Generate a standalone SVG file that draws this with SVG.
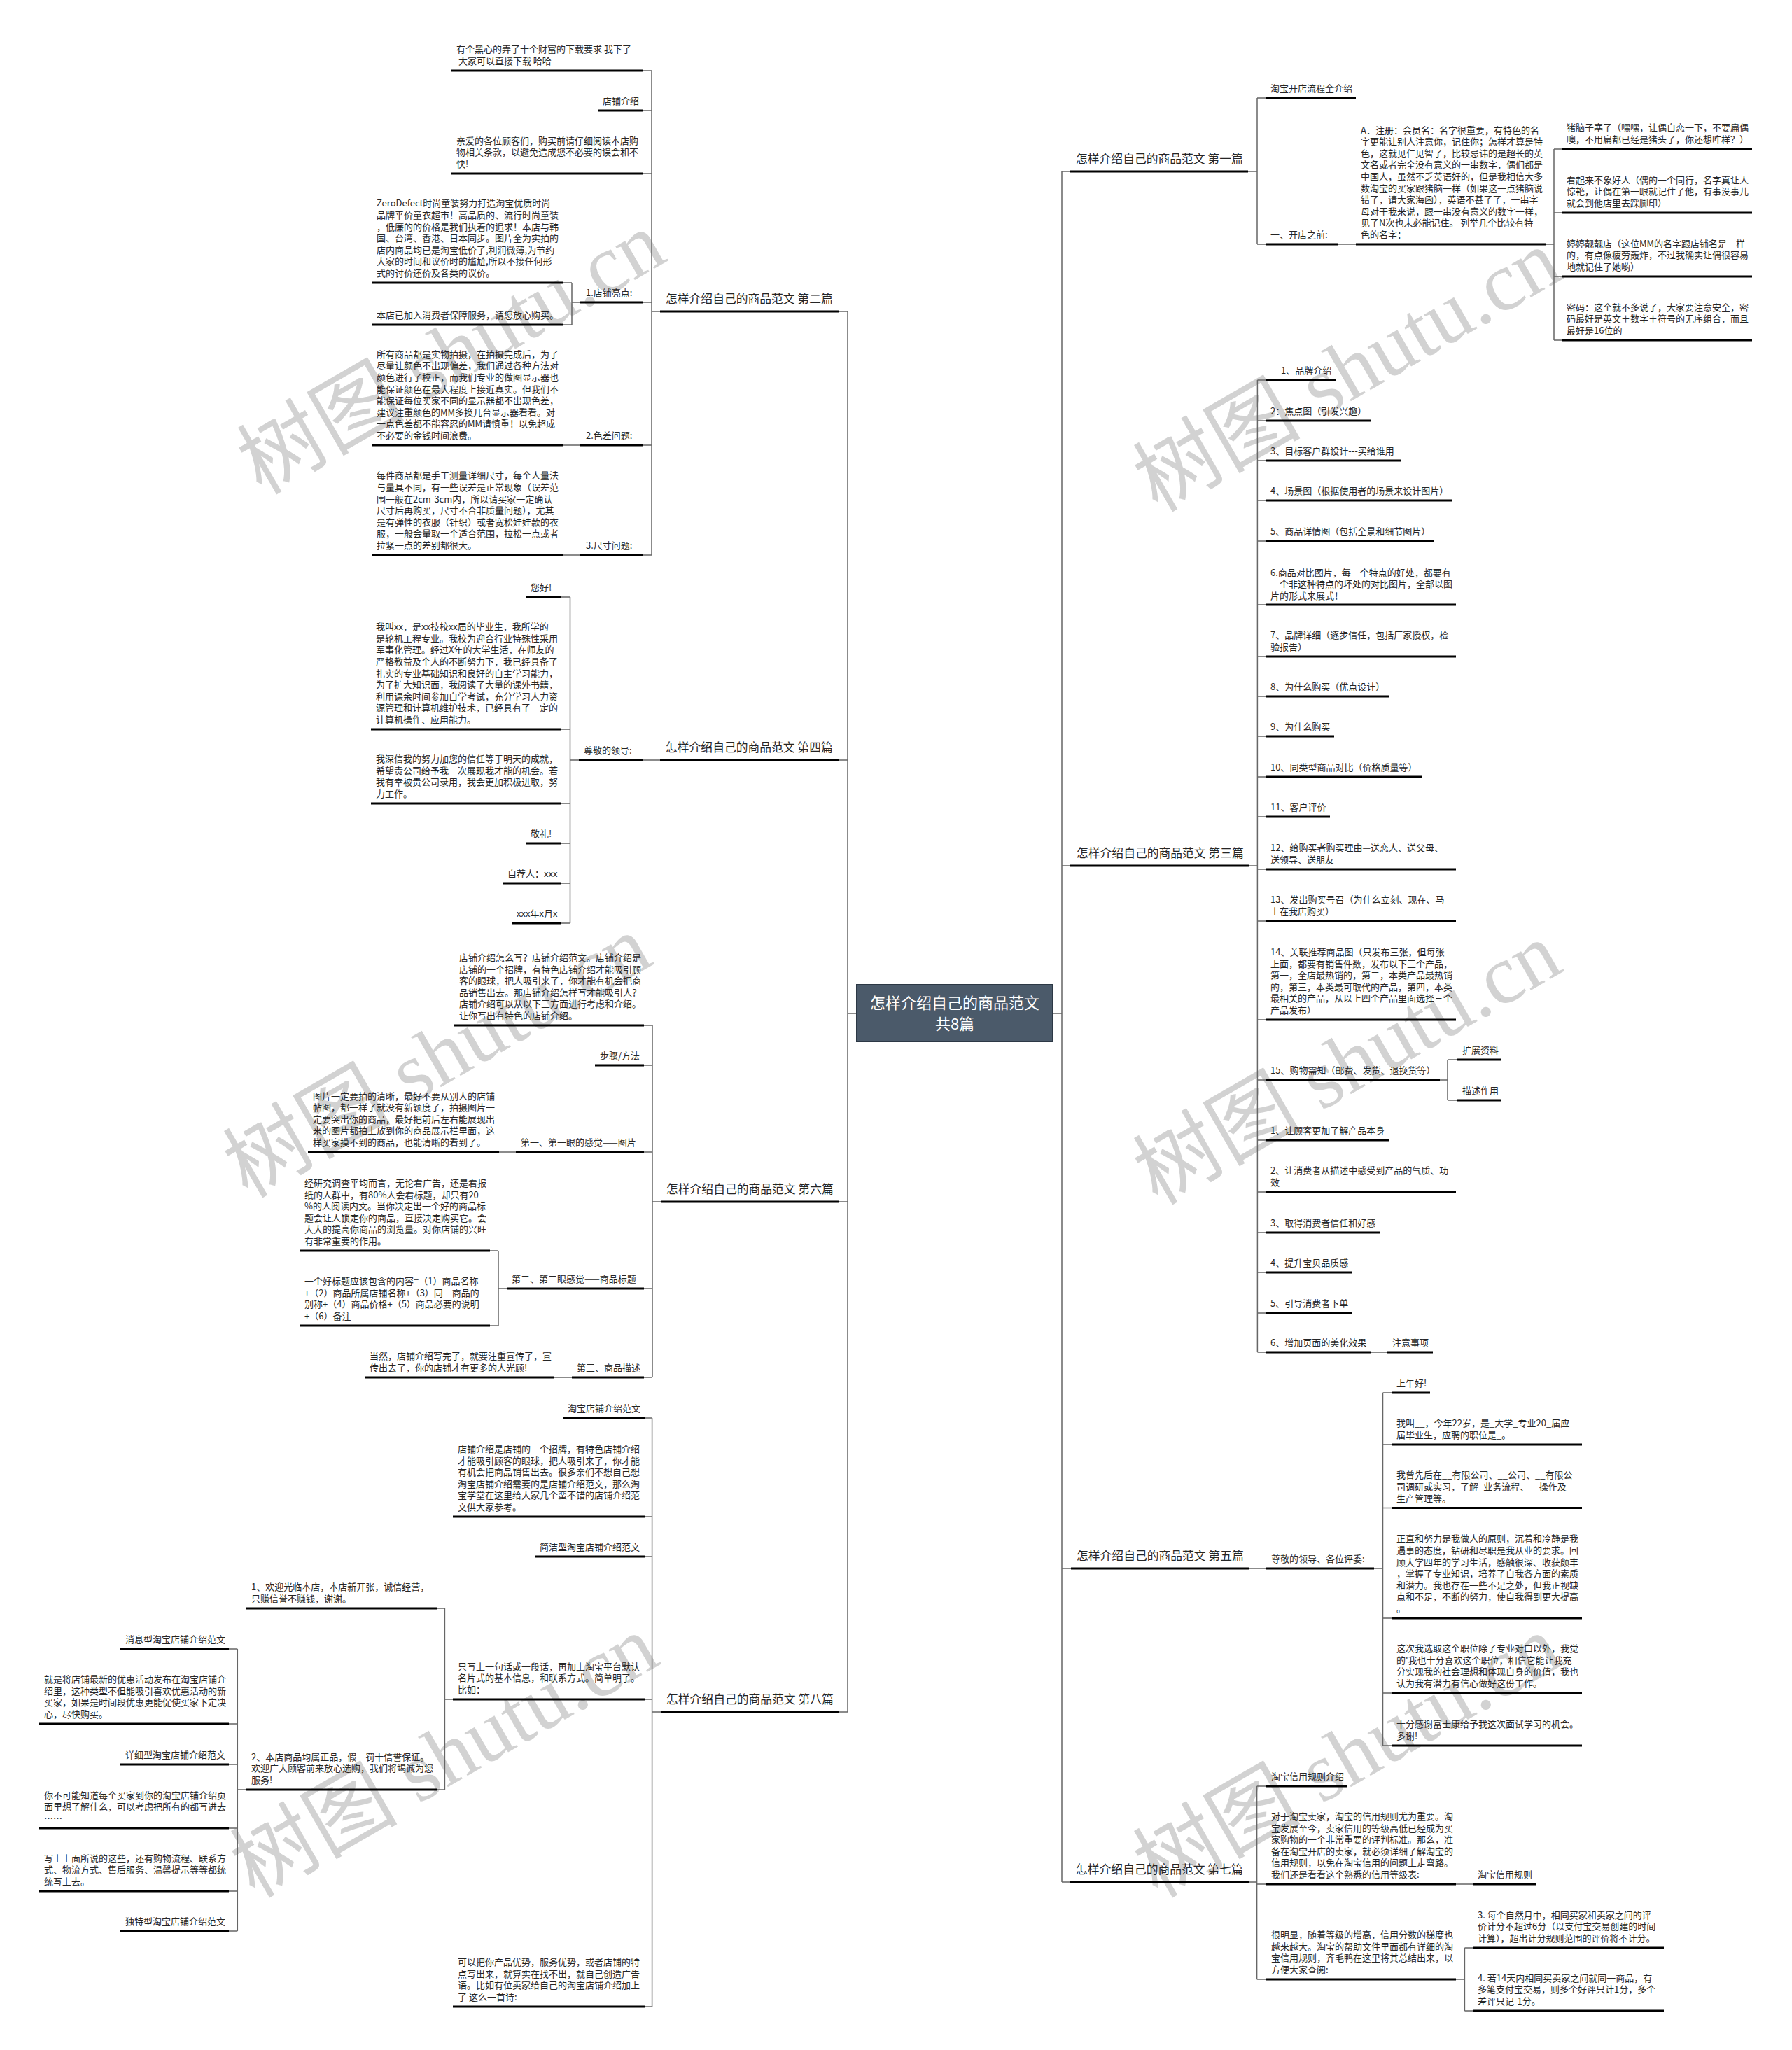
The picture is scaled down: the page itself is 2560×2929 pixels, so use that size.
<svg xmlns="http://www.w3.org/2000/svg" width="2560" height="2929" viewBox="0 0 2560 2929">
<style>
.t{font-family:"Noto Sans CJK SC","Liberation Sans",sans-serif;font-size:13px;fill:#262626}
.h{font-family:"Noto Sans CJK SC","Liberation Sans",sans-serif;font-size:16.8px;fill:#262626}
.c{font-family:"Noto Sans CJK SC","Liberation Sans",sans-serif;font-size:22px;fill:#ffffff;text-anchor:middle}
.u{stroke:#000;stroke-width:3;fill:none}
.l{stroke:#666;stroke-width:1.5;fill:none}
.w{font-family:"Liberation Serif","Noto Sans CJK SC",serif;font-size:120px;fill:#d2d2d2;text-anchor:middle}
</style>
<rect width="2560" height="2929" fill="#ffffff"/>
<g id="watermarks">
<text class="w" x="645" y="545" transform="rotate(-30 645 505)">树图 shutu.cn</text>
<text class="w" x="625" y="1550" transform="rotate(-30 625 1510)">树图 shutu.cn</text>
<text class="w" x="635" y="2550" transform="rotate(-30 635 2510)">树图 shutu.cn</text>
<text class="w" x="1925" y="570" transform="rotate(-30 1925 530)">树图 shutu.cn</text>
<text class="w" x="1925" y="1560" transform="rotate(-30 1925 1520)">树图 shutu.cn</text>
<text class="w" x="1925" y="2550" transform="rotate(-30 1925 2510)">树图 shutu.cn</text>
</g>
<g id="connectors">
<path class="l" d="M1224 1448H1211M1211 445V2446M1211 445H1198M1211 1086H1198M1211 1717H1199M1211 2446H1198"/>
<path class="l" d="M931 101V793M943 445H931M931 101H918M931 158H918M931 248H918M931 432H918M931 636H918M931 793H918M829 432H817M817 404V464M817 404H805M817 464H805M805 636H829M805 793H829"/>
<path class="l" d="M918 1086H943M814.5 853V1319M827 1086H814.5M814.5 853H802M814.5 1042H802M814.5 1148H802M814.5 1205H802M814.5 1262H802M814.5 1319H802"/>
<path class="l" d="M932 1465V1968M944 1717H932M932 1465H920M932 1522H920M932 1646H920M932 1841H920M932 1968H920M713 1646H737M724 1841H712M712 1787V1894M712 1787H700M712 1894H700M792 1968H817"/>
<path class="l" d="M931.6 2026V2867M944 2446H931.6M931.6 2026H921M931.6 2167H921M931.6 2224H921M931.6 2428H921M931.6 2867H921M647 2428H635.4M635.4 2298V2557M635.4 2298H624M635.4 2557H624M352 2557H339.3M339.3 2356V2759M339.3 2356H327M339.3 2463H327M339.3 2521H327M339.3 2612H327M339.3 2702H327M339.3 2759H327"/>
<path class="l" d="M1504 1448H1517M1517 245V2689M1517 245H1528M1517 1237H1529M1517 2241H1530M1517 2689H1529"/>
<path class="l" d="M1783 245H1796M1796 140V349M1796 140H1808M1796 349H1808M1911 349H1937M2208 349H2220M2220 213V486M2220 213H2231M2220 304H2231M2220 395H2231M2220 486H2231"/>
<path class="l" d="M1784 1237H1796.4M1796.4 543V1932M1796.4 543H1808M1796.4 601H1808M1796.4 658H1808M1796.4 715H1808M1796.4 773H1808M1796.4 864H1808M1796.4 938H1808M1796.4 995H1808M1796.4 1052H1808M1796.4 1110H1808M1796.4 1167H1808M1796.4 1242H1808M1796.4 1316H1808M1796.4 1457H1808M1796.4 1543H1808M1796.4 1629H1808M1796.4 1703H1808M1796.4 1761H1808M1796.4 1818H1808M1796.4 1876H1808M1796.4 1932H1808M2057 1543H2068M2068 1514V1572M2068 1514H2082M2068 1572H2082M1958 1932H1982"/>
<path class="l" d="M1784 2241H1809M1963 2241H1975.5M1975.5 1990V2494M1975.5 1990H1988M1975.5 2064H1988M1975.5 2154.5H1988M1975.5 2312H1988M1975.5 2419H1988M1975.5 2494H1988"/>
<path class="l" d="M1784 2689H1795.6M1795.6 2552V2828M1795.6 2552H1809M1795.6 2692H1809M1795.6 2828H1809M2080 2692H2104.5M2080 2828H2092.4M2092.4 2783V2873M2092.4 2783H2104.5M2092.4 2873H2104.5"/>
</g>
<g id="center">
<rect x="1224" y="1407" width="280" height="81" fill="#4b5a6a" stroke="#2c3845" stroke-width="2"/>
<text class="c" x="1364" y="1441">怎样介绍自己的商品范文</text>
<text class="c" x="1364" y="1471">共8篇</text>
</g>
<!-- 第二篇 -->
<g id="t2"><text class="h" x="951" y="433">怎样介绍自己的商品范文 第二篇</text><line class="u" x1="943" y1="445" x2="1198" y2="445"/></g>
<g id="n2-1"><text class="t"><tspan x="652" y="75.4">有个黑心的弄了十个财富的下载要求 我下了</tspan><tspan x="652" y="92"> 大家可以直接下载 哈哈</tspan></text><line class="u" x1="645" y1="101" x2="918" y2="101"/></g>
<g id="n2-2"><text class="t" x="861" y="149">店铺介绍</text><line class="u" x1="854" y1="158" x2="918" y2="158"/></g>
<g id="n2-3"><text class="t"><tspan x="652" y="205.8">亲爱的各位顾客们，购买前请仔细阅读本店购</tspan><tspan x="652" y="222.4">物相关条款，以避免造成您不必要的误会和不</tspan><tspan x="652" y="239">快!</tspan></text><line class="u" x1="645" y1="248" x2="918" y2="248"/></g>
<g id="n2-4"><text class="t" x="837" y="423">1.店铺亮点:</text><line class="u" x1="829" y1="432" x2="918" y2="432"/></g>
<g id="n2-4a"><text class="t"><tspan x="538" y="295.4">ZeroDefect时尚童装努力打造淘宝优质时尚</tspan><tspan x="538" y="312">品牌平价童衣超市！高品质的、流行时尚童装</tspan><tspan x="538" y="328.6">，低廉的的价格是我们执着的追求！本店与韩</tspan><tspan x="538" y="345.2">国、台湾、香港、日本同步。图片全为实拍的</tspan><tspan x="538" y="361.8">店内商品均已是淘宝低价了,利润微薄,为节约</tspan><tspan x="538" y="378.4">大家的时间和议价时的尴尬,所以不接任何形</tspan><tspan x="538" y="395">式的讨价还价及各类的议价。</tspan></text><line class="u" x1="531" y1="404" x2="805" y2="404"/></g>
<g id="n2-4b"><text class="t" x="538" y="455">本店已加入消费者保障服务，请您放心购买。</text><line class="u" x1="531" y1="464" x2="805" y2="464"/></g>
<g id="n2-5"><text class="t" x="837" y="627">2.色差问题:</text><line class="u" x1="829" y1="636" x2="918" y2="636"/></g>
<g id="n2-5a"><text class="t"><tspan x="538" y="510.8">所有商品都是实物拍摄，在拍摄完成后，为了</tspan><tspan x="538" y="527.4">尽量让颜色不出现偏差，我们通过各种方法对</tspan><tspan x="538" y="544">颜色进行了校正，而我们专业的做图显示器也</tspan><tspan x="538" y="560.6">能保证颜色在最大程度上接近真实。但我们不</tspan><tspan x="538" y="577.2">能保证每位买家不同的显示器都不出现色差，</tspan><tspan x="538" y="593.8">建议注重颜色的MM多换几台显示器看看。对</tspan><tspan x="538" y="610.4">一点色差都不能容忍的MM请慎重！以免超成</tspan><tspan x="538" y="627">不必要的金钱时间浪费。</tspan></text><line class="u" x1="531" y1="636" x2="805" y2="636"/></g>
<g id="n2-6"><text class="t" x="837" y="784">3.尺寸问题:</text><line class="u" x1="829" y1="793" x2="918" y2="793"/></g>
<g id="n2-6a"><text class="t"><tspan x="538" y="684.4">每件商品都是手工测量详细尺寸，每个人量法</tspan><tspan x="538" y="701">与量具不同，有一些误差是正常现象（误差范</tspan><tspan x="538" y="717.6">围一般在2cm-3cm内，所以请买家一定确认</tspan><tspan x="538" y="734.2">尺寸后再购买，尺寸不合非质量问题），尤其</tspan><tspan x="538" y="750.8">是有弹性的衣服（针织）或者宽松娃娃款的衣</tspan><tspan x="538" y="767.4">服，一般会量取一个适合范围，拉松一点或者</tspan><tspan x="538" y="784">拉紧一点的差别都很大。</tspan></text><line class="u" x1="531" y1="793" x2="805" y2="793"/></g>
<!-- 第四篇 -->
<g id="t4"><text class="h" x="951" y="1074">怎样介绍自己的商品范文 第四篇</text><line class="u" x1="943" y1="1086" x2="1198" y2="1086"/></g>
<g id="n4-1"><text class="t" x="834" y="1077">尊敬的领导:</text><line class="u" x1="827" y1="1086" x2="918" y2="1086"/></g>
<g id="n4-2"><text class="t" x="758" y="844">您好!</text><line class="u" x1="751" y1="853" x2="802" y2="853"/></g>
<g id="n4-3"><text class="t"><tspan x="537" y="900.2">我叫xx，是xx技校xx届的毕业生，我所学的</tspan><tspan x="537" y="916.8">是轮机工程专业。我校为迎合行业特殊性采用</tspan><tspan x="537" y="933.4">军事化管理。经过X年的大学生活，在师友的</tspan><tspan x="537" y="950">严格教益及个人的不断努力下，我已经具备了</tspan><tspan x="537" y="966.6">扎实的专业基础知识和良好的自主学习能力，</tspan><tspan x="537" y="983.2">为了扩大知识面，我阅读了大量的课外书籍，</tspan><tspan x="537" y="999.8">利用课余时间参加自学考试，充分学习人力资</tspan><tspan x="537" y="1016.4">源管理和计算机维护技术，已经具有了一定的</tspan><tspan x="537" y="1033">计算机操作、应用能力。</tspan></text><line class="u" x1="530" y1="1042" x2="802" y2="1042"/></g>
<g id="n4-4"><text class="t"><tspan x="537" y="1089.2">我深信我的努力加您的信任等于明天的成就，</tspan><tspan x="537" y="1105.8">希望贵公司给予我一次展现我才能的机会。若</tspan><tspan x="537" y="1122.4">我有幸被贵公司录用，我会更加积极进取，努</tspan><tspan x="537" y="1139">力工作。</tspan></text><line class="u" x1="530" y1="1148" x2="802" y2="1148"/></g>
<g id="n4-5"><text class="t" x="758" y="1196">敬礼!</text><line class="u" x1="751" y1="1205" x2="802" y2="1205"/></g>
<g id="n4-6"><text class="t" x="725" y="1253">自荐人：xxx</text><line class="u" x1="718" y1="1262" x2="802" y2="1262"/></g>
<g id="n4-7"><text class="t" x="738" y="1310">xxx年x月x</text><line class="u" x1="731" y1="1319" x2="802" y2="1319"/></g>
<!-- 第六篇 -->
<g id="t6"><text class="h" x="952" y="1705">怎样介绍自己的商品范文 第六篇</text><line class="u" x1="944" y1="1717" x2="1199" y2="1717"/></g>
<g id="n6-1"><text class="t"><tspan x="656" y="1373">店铺介绍怎么写？店铺介绍范文。店铺介绍是</tspan><tspan x="656" y="1389.6">店铺的一个招牌，有特色店铺介绍才能吸引顾</tspan><tspan x="656" y="1406.2">客的眼球，把人吸引来了，你才能有机会把商</tspan><tspan x="656" y="1422.8">品销售出去。那店铺介绍怎样写才能吸引人？</tspan><tspan x="656" y="1439.4">店铺介绍可以从以下三方面进行考虑和介绍。</tspan><tspan x="656" y="1456">让你写出有特色的店铺介绍。</tspan></text><line class="u" x1="649" y1="1465" x2="920" y2="1465"/></g>
<g id="n6-2"><text class="t" x="857" y="1513">步骤/方法</text><line class="u" x1="850" y1="1522" x2="920" y2="1522"/></g>
<g id="n6-3"><text class="t" x="744" y="1637">第一、第一眼的感觉——图片</text><line class="u" x1="737" y1="1646" x2="920" y2="1646"/></g>
<g id="n6-3a"><text class="t"><tspan x="447" y="1570.6">图片一定要拍的清晰，最好不要从别人的店铺</tspan><tspan x="447" y="1587.2">帖图，都一样了就没有新颖度了，拍摄图片一</tspan><tspan x="447" y="1603.8">定要突出你的商品，最好把前后左右能展现出</tspan><tspan x="447" y="1620.4">来的图片都拍上放到你的商品展示栏里面，这</tspan><tspan x="447" y="1637">样买家摸不到的商品，也能清晰的看到了。</tspan></text><line class="u" x1="440" y1="1646" x2="713" y2="1646"/></g>
<g id="n6-4"><text class="t" x="731" y="1832">第二、第二眼感觉——商品标题</text><line class="u" x1="724" y1="1841" x2="920" y2="1841"/></g>
<g id="n6-4a"><text class="t"><tspan x="435" y="1695">经研究调查平均而言，无论看广告，还是看报</tspan><tspan x="435" y="1711.6">纸的人群中，有80%人会看标题，却只有20</tspan><tspan x="435" y="1728.2">%的人阅读内文。当你决定出一个好的商品标</tspan><tspan x="435" y="1744.8">题会让人锁定你的商品，直接决定购买它。会</tspan><tspan x="435" y="1761.4">大大的提高你商品的浏览量。对你店铺的兴旺</tspan><tspan x="435" y="1778">有非常重要的作用。</tspan></text><line class="u" x1="428" y1="1787" x2="700" y2="1787"/></g>
<g id="n6-4b"><text class="t"><tspan x="435" y="1835.2">一个好标题应该包含的内容=（1）商品名称</tspan><tspan x="435" y="1851.8">+（2）商品所属店铺名称+（3）同一商品的</tspan><tspan x="435" y="1868.4">别称+（4）商品价格+（5）商品必要的说明</tspan><tspan x="435" y="1885">+（6）备注</tspan></text><line class="u" x1="428" y1="1894" x2="700" y2="1894"/></g>
<g id="n6-5"><text class="t" x="824" y="1959">第三、商品描述</text><line class="u" x1="817" y1="1968" x2="920" y2="1968"/></g>
<g id="n6-5a"><text class="t"><tspan x="528" y="1942.4">当然，店铺介绍写完了，就要注重宣传了，宣</tspan><tspan x="528" y="1959">传出去了，你的店铺才有更多的人光顾!</tspan></text><line class="u" x1="521" y1="1968" x2="792" y2="1968"/></g>
<!-- 第八篇 -->
<g id="t8"><text class="h" x="952" y="2434">怎样介绍自己的商品范文 第八篇</text><line class="u" x1="944" y1="2446" x2="1198" y2="2446"/></g>
<g id="n8-1"><text class="t" x="811" y="2017">淘宝店铺介绍范文</text><line class="u" x1="804" y1="2026" x2="921" y2="2026"/></g>
<g id="n8-2"><text class="t"><tspan x="654" y="2075">店铺介绍是店铺的一个招牌，有特色店铺介绍</tspan><tspan x="654" y="2091.6">才能吸引顾客的眼球，把人吸引来了，你才能</tspan><tspan x="654" y="2108.2">有机会把商品销售出去。很多亲们不想自己想</tspan><tspan x="654" y="2124.8">淘宝店铺介绍需要的是店铺介绍范文，那么淘</tspan><tspan x="654" y="2141.4">宝学堂在这里给大家几个蛮不错的店铺介绍范</tspan><tspan x="654" y="2158">文供大家参考。</tspan></text><line class="u" x1="647" y1="2167" x2="921" y2="2167"/></g>
<g id="n8-3"><text class="t" x="771" y="2215">简洁型淘宝店铺介绍范文</text><line class="u" x1="764" y1="2224" x2="921" y2="2224"/></g>
<g id="n8-4"><text class="t"><tspan x="654" y="2385.8">只写上一句话或一段话，再加上淘宝平台默认</tspan><tspan x="654" y="2402.4">名片式的基本信息，和联系方式。简单明了。</tspan><tspan x="654" y="2419">比如：</tspan></text><line class="u" x1="647" y1="2428" x2="921" y2="2428"/></g>
<g id="n8-4a"><text class="t"><tspan x="359" y="2272.4">1、欢迎光临本店，本店新开张，诚信经营，</tspan><tspan x="359" y="2289">只赚信誉不赚钱，谢谢。</tspan></text><line class="u" x1="352" y1="2298" x2="624" y2="2298"/></g>
<g id="n8-4b"><text class="t"><tspan x="359" y="2514.8">2、本店商品均属正品，假一罚十信誉保证。</tspan><tspan x="359" y="2531.4">欢迎广大顾客前来放心选购，我们将竭诚为您</tspan><tspan x="359" y="2548">服务!</tspan></text><line class="u" x1="352" y1="2557" x2="624" y2="2557"/></g>
<g id="n8-5"><text class="t" x="179" y="2347">消息型淘宝店铺介绍范文</text><line class="u" x1="172" y1="2356" x2="327" y2="2356"/></g>
<g id="n8-6"><text class="t"><tspan x="63" y="2404.2">就是将店铺最新的优惠活动发布在淘宝店铺介</tspan><tspan x="63" y="2420.8">绍里，这种类型不但能吸引喜欢优惠活动的新</tspan><tspan x="63" y="2437.4">买家，如果是时间段优惠更能促使买家下定决</tspan><tspan x="63" y="2454">心，尽快购买。</tspan></text><line class="u" x1="56" y1="2463" x2="327" y2="2463"/></g>
<g id="n8-7"><text class="t" x="179" y="2512">详细型淘宝店铺介绍范文</text><line class="u" x1="172" y1="2521" x2="327" y2="2521"/></g>
<g id="n8-8"><text class="t"><tspan x="63" y="2569.8">你不可能知道每个买家到你的淘宝店铺介绍页</tspan><tspan x="63" y="2586.4">面里想了解什么，可以考虑把所有的都写进去</tspan><tspan x="63" y="2603">……</tspan></text><line class="u" x1="56" y1="2612" x2="327" y2="2612"/></g>
<g id="n8-9"><text class="t"><tspan x="63" y="2659.8">写上上面所说的这些，还有购物流程、联系方</tspan><tspan x="63" y="2676.4">式、物流方式、售后服务、温馨提示等等都统</tspan><tspan x="63" y="2693">统写上去。</tspan></text><line class="u" x1="56" y1="2702" x2="327" y2="2702"/></g>
<g id="n8-10"><text class="t" x="179" y="2750">独特型淘宝店铺介绍范文</text><line class="u" x1="172" y1="2759" x2="327" y2="2759"/></g>
<g id="n8-11"><text class="t"><tspan x="654" y="2808.2">可以把你产品优势，服务优势，或者店铺的特</tspan><tspan x="654" y="2824.8">点写出来，就算实在找不出，就自己创造广告</tspan><tspan x="654" y="2841.4">语。比如有位卖家给自己的淘宝店铺介绍加上</tspan><tspan x="654" y="2858">了 这么一首诗:</tspan></text><line class="u" x1="647" y1="2867" x2="921" y2="2867"/></g>
<!-- 第一篇 -->
<g id="t1"><text class="h" x="1537" y="233">怎样介绍自己的商品范文 第一篇</text><line class="u" x1="1528" y1="245" x2="1783" y2="245"/></g>
<g id="n1-1"><text class="t" x="1815" y="131">淘宝开店流程全介绍</text><line class="u" x1="1808" y1="140" x2="1937" y2="140"/></g>
<g id="n1-2"><text class="t" x="1815" y="340">一、开店之前:</text><line class="u" x1="1808" y1="349" x2="1911" y2="349"/></g>
<g id="n1-3"><text class="t"><tspan x="1944" y="190.6">A．注册：会员名：名字很重要，有特色的名</tspan><tspan x="1944" y="207.2">字更能让别人注意你，记住你；怎样才算是特</tspan><tspan x="1944" y="223.8">色，这就见仁见智了，比较忌讳的是超长的英</tspan><tspan x="1944" y="240.4">文名或者完全没有意义的一串数字，偶们都是</tspan><tspan x="1944" y="257">中国人，虽然不乏英语好的，但是我相信大多</tspan><tspan x="1944" y="273.6">数淘宝的买家跟猪脑一样（如果这一点猪脑说</tspan><tspan x="1944" y="290.2">错了，请大家海函），英语不甚了了，一串字</tspan><tspan x="1944" y="306.8">母对于我来说，跟一串没有意义的数字一样，</tspan><tspan x="1944" y="323.4">见了N次也未必能记住。 列举几个比较有特</tspan><tspan x="1944" y="340">色的名字：</tspan></text><line class="u" x1="1937" y1="349" x2="2208" y2="349"/></g>
<g id="n1-4"><text class="t"><tspan x="2238" y="187.4">猪脑子塞了（嘿嘿，让偶自恋一下，不要扁偶</tspan><tspan x="2238" y="204">噢，不用扁都已经是猪头了，你还想咋样？）</tspan></text><line class="u" x1="2231" y1="213" x2="2503" y2="213"/></g>
<g id="n1-5"><text class="t"><tspan x="2238" y="261.8">看起来不象好人（偶的一个同行，名字真让人</tspan><tspan x="2238" y="278.4">惊艳，让偶在第一眼就记住了他，有事没事儿</tspan><tspan x="2238" y="295">就会到他店里去踩脚印）</tspan></text><line class="u" x1="2231" y1="304" x2="2503" y2="304"/></g>
<g id="n1-6"><text class="t"><tspan x="2238" y="352.8">婷婷靓靓店（这位MM的名字跟店铺名是一样</tspan><tspan x="2238" y="369.4">的，有点像疲劳轰炸，不过我确实让偶很容易</tspan><tspan x="2238" y="386">地就记住了她哟）</tspan></text><line class="u" x1="2231" y1="395" x2="2503" y2="395"/></g>
<g id="n1-7"><text class="t"><tspan x="2238" y="443.8">密码：这个就不多说了，大家要注意安全，密</tspan><tspan x="2238" y="460.4">码最好是英文＋数字＋符号的无序组合，而且</tspan><tspan x="2238" y="477">最好是16位的</tspan></text><line class="u" x1="2231" y1="486" x2="2503" y2="486"/></g>
<!-- 第三篇 -->
<g id="t3"><text class="h" x="1538" y="1225">怎样介绍自己的商品范文 第三篇</text><line class="u" x1="1529" y1="1237" x2="1784" y2="1237"/></g>
<g id="n3-1"><text class="t" x="1830" y="534">1、品牌介绍</text><line class="u" x1="1808" y1="543" x2="1908" y2="543"/></g>
<g id="n3-2"><text class="t" x="1815" y="592">2：焦点图（引发兴趣）</text><line class="u" x1="1808" y1="601" x2="1958" y2="601"/></g>
<g id="n3-3"><text class="t" x="1815" y="649">3、目标客户群设计---买给谁用</text><line class="u" x1="1808" y1="658" x2="2001" y2="658"/></g>
<g id="n3-4"><text class="t" x="1815" y="706">4、场景图（根据使用者的场景来设计图片）</text><line class="u" x1="1808" y1="715" x2="2075" y2="715"/></g>
<g id="n3-5"><text class="t" x="1815" y="764">5、商品详情图（包括全景和细节图片）</text><line class="u" x1="1808" y1="773" x2="2048" y2="773"/></g>
<g id="n3-6"><text class="t"><tspan x="1815" y="822.8">6.商品对比图片，每一个特点的好处，都要有</tspan><tspan x="1815" y="839.4">一个非这种特点的坏处的对比图片，全部以图</tspan><tspan x="1815" y="856">片的形式来展式！</tspan></text><line class="u" x1="1808" y1="864" x2="2080" y2="864"/></g>
<g id="n3-7"><text class="t"><tspan x="1815" y="912.4">7、品牌详细（逐步信任，包括厂家授权，检</tspan><tspan x="1815" y="929">验报告）</tspan></text><line class="u" x1="1808" y1="938" x2="2080" y2="938"/></g>
<g id="n3-8"><text class="t" x="1815" y="986">8、为什么购买（优点设计）</text><line class="u" x1="1808" y1="995" x2="1984" y2="995"/></g>
<g id="n3-9"><text class="t" x="1815" y="1043">9、为什么购买</text><line class="u" x1="1808" y1="1052" x2="1906" y2="1052"/></g>
<g id="n3-10"><text class="t" x="1815" y="1101">10、同类型商品对比（价格质量等）</text><line class="u" x1="1808" y1="1110" x2="2031" y2="1110"/></g>
<g id="n3-11"><text class="t" x="1815" y="1158">11、客户评价</text><line class="u" x1="1808" y1="1167" x2="1900" y2="1167"/></g>
<g id="n3-12"><text class="t"><tspan x="1815" y="1216.4">12、给购买者购买理由—送恋人、送父母、</tspan><tspan x="1815" y="1233">送领导、送朋友</tspan></text><line class="u" x1="1808" y1="1242" x2="2080" y2="1242"/></g>
<g id="n3-13"><text class="t"><tspan x="1815" y="1290.4">13、发出购买号召（为什么立刻、现在、马</tspan><tspan x="1815" y="1307">上在我店购买）</tspan></text><line class="u" x1="1808" y1="1316" x2="2080" y2="1316"/></g>
<g id="n3-14"><text class="t"><tspan x="1815" y="1365">14、关联推荐商品图（只发布三张，但每张</tspan><tspan x="1815" y="1381.6">上面，都要有销售件数，发布以下三个产品，</tspan><tspan x="1815" y="1398.2">第一，全店最热销的，第二，本类产品最热销</tspan><tspan x="1815" y="1414.8">的，第三，本类最可取代的产品，第四，本类</tspan><tspan x="1815" y="1431.4">最相关的产品，从以上四个产品里面选择三个</tspan><tspan x="1815" y="1448">产品发布）</tspan></text><line class="u" x1="1808" y1="1457" x2="2080" y2="1457"/></g>
<g id="n3-15"><text class="t" x="1815" y="1534">15、购物需知（邮费、发货、退换货等）</text><line class="u" x1="1808" y1="1543" x2="2057" y2="1543"/></g>
<g id="n3-15a"><text class="t" x="2089" y="1505">扩展资料</text><line class="u" x1="2082" y1="1514" x2="2145" y2="1514"/></g>
<g id="n3-15b"><text class="t" x="2089" y="1563">描述作用</text><line class="u" x1="2082" y1="1572" x2="2145" y2="1572"/></g>
<g id="n3-16"><text class="t" x="1815" y="1620">1、让顾客更加了解产品本身</text><line class="u" x1="1808" y1="1629" x2="1984" y2="1629"/></g>
<g id="n3-17"><text class="t"><tspan x="1815" y="1677.4">2、让消费者从描述中感受到产品的气质、功</tspan><tspan x="1815" y="1694">效</tspan></text><line class="u" x1="1808" y1="1703" x2="2080" y2="1703"/></g>
<g id="n3-18"><text class="t" x="1815" y="1752">3、取得消费者信任和好感</text><line class="u" x1="1808" y1="1761" x2="1971" y2="1761"/></g>
<g id="n3-19"><text class="t" x="1815" y="1809">4、提升宝贝品质感</text><line class="u" x1="1808" y1="1818" x2="1932" y2="1818"/></g>
<g id="n3-20"><text class="t" x="1815" y="1867">5、引导消费者下单</text><line class="u" x1="1808" y1="1876" x2="1932" y2="1876"/></g>
<g id="n3-21"><text class="t" x="1815" y="1923">6、增加页面的美化效果</text><line class="u" x1="1808" y1="1932" x2="1958" y2="1932"/></g>
<g id="n3-21a"><text class="t" x="1989" y="1923">注意事项</text><line class="u" x1="1982" y1="1932" x2="2047" y2="1932"/></g>
<!-- 第五篇 -->
<g id="t5"><text class="h" x="1538" y="2229">怎样介绍自己的商品范文 第五篇</text><line class="u" x1="1530" y1="2241" x2="1784" y2="2241"/></g>
<g id="n5-1"><text class="t" x="1816" y="2232">尊敬的领导、各位评委:</text><line class="u" x1="1809" y1="2241" x2="1963" y2="2241"/></g>
<g id="n5-2"><text class="t" x="1995" y="1981">上午好!</text><line class="u" x1="1988" y1="1990" x2="2043" y2="1990"/></g>
<g id="n5-3"><text class="t"><tspan x="1995" y="2038.4">我叫__，今年22岁，是_大学_专业20_届应</tspan><tspan x="1995" y="2055">届毕业生，应聘的职位是_。</tspan></text><line class="u" x1="1988" y1="2064" x2="2260" y2="2064"/></g>
<g id="n5-4"><text class="t"><tspan x="1995" y="2112.3">我曾先后在__有限公司、__公司、__有限公</tspan><tspan x="1995" y="2128.9">司调研或实习，了解_业务流程、__操作及</tspan><tspan x="1995" y="2145.5">生产管理等。</tspan></text><line class="u" x1="1988" y1="2154.5" x2="2260" y2="2154.5"/></g>
<g id="n5-5"><text class="t"><tspan x="1995" y="2203.4">正直和努力是我做人的原则，沉着和冷静是我</tspan><tspan x="1995" y="2220">遇事的态度，钻研和尽职是我从业的要求。回</tspan><tspan x="1995" y="2236.6">顾大学四年的学习生活，感触很深、收获颇丰</tspan><tspan x="1995" y="2253.2">，掌握了专业知识，培养了自我各方面的素质</tspan><tspan x="1995" y="2269.8">和潜力。我也存在一些不足之处，但我正视缺</tspan><tspan x="1995" y="2286.4">点和不足，不断的努力，使自我得到更大提高</tspan><tspan x="1995" y="2303">。</tspan></text><line class="u" x1="1988" y1="2312" x2="2260" y2="2312"/></g>
<g id="n5-6"><text class="t"><tspan x="1995" y="2360.2">这次我选取这个职位除了专业对口以外，我觉</tspan><tspan x="1995" y="2376.8">的'我也十分喜欢这个职位，相信它能让我充</tspan><tspan x="1995" y="2393.4">分实现我的社会理想和体现自身的价值，我也</tspan><tspan x="1995" y="2410">认为我有潜力有信心做好这份工作。</tspan></text><line class="u" x1="1988" y1="2419" x2="2260" y2="2419"/></g>
<g id="n5-7"><text class="t"><tspan x="1995" y="2468.4">十分感谢富士康给予我这次面试学习的机会。</tspan><tspan x="1995" y="2485">多谢!</tspan></text><line class="u" x1="1988" y1="2494" x2="2260" y2="2494"/></g>
<!-- 第七篇 -->
<g id="t7"><text class="h" x="1537" y="2677">怎样介绍自己的商品范文 第七篇</text><line class="u" x1="1529" y1="2689" x2="1784" y2="2689"/></g>
<g id="n7-1"><text class="t" x="1816" y="2543">淘宝信用规则介绍</text><line class="u" x1="1809" y1="2552" x2="1925" y2="2552"/></g>
<g id="n7-2"><text class="t"><tspan x="1816" y="2600">对于淘宝卖家，淘宝的信用规则尤为重要。淘</tspan><tspan x="1816" y="2616.6">宝发展至今，卖家信用的等级高低已经成为买</tspan><tspan x="1816" y="2633.2">家购物的一个非常重要的评判标准。那么，准</tspan><tspan x="1816" y="2649.8">备在淘宝开店的卖家，就必须详细了解淘宝的</tspan><tspan x="1816" y="2666.4">信用规则，以免在淘宝信用的问题上走弯路。</tspan><tspan x="1816" y="2683">我们还是看看这个熟悉的信用等级表:</tspan></text><line class="u" x1="1809" y1="2692" x2="2080" y2="2692"/></g>
<g id="n7-3"><text class="t" x="2111" y="2683">淘宝信用规则</text><line class="u" x1="2104.5" y1="2692" x2="2195" y2="2692"/></g>
<g id="n7-4"><text class="t"><tspan x="1816" y="2769.2">很明显，随着等级的增高，信用分数的梯度也</tspan><tspan x="1816" y="2785.8">越来越大。淘宝的帮助文件里面都有详细的淘</tspan><tspan x="1816" y="2802.4">宝信用规则，齐毛鸭在这里将其总结出来，以</tspan><tspan x="1816" y="2819">方便大家查阅:</tspan></text><line class="u" x1="1809" y1="2828" x2="2080" y2="2828"/></g>
<g id="n7-5"><text class="t"><tspan x="2111" y="2740.8">3. 每个自然月中，相同买家和卖家之间的评</tspan><tspan x="2111" y="2757.4">价计分不超过6分（以支付宝交易创建的时间</tspan><tspan x="2111" y="2774">计算），超出计分规则范围的评价将不计分。</tspan></text><line class="u" x1="2104.5" y1="2783" x2="2377" y2="2783"/></g>
<g id="n7-6"><text class="t"><tspan x="2111" y="2830.8">4. 若14天内相同买卖家之间就同一商品，有</tspan><tspan x="2111" y="2847.4">多笔支付宝交易，则多个好评只计1分，多个</tspan><tspan x="2111" y="2864">差评只记-1分。</tspan></text><line class="u" x1="2104.5" y1="2873" x2="2377" y2="2873"/></g>
</svg>
